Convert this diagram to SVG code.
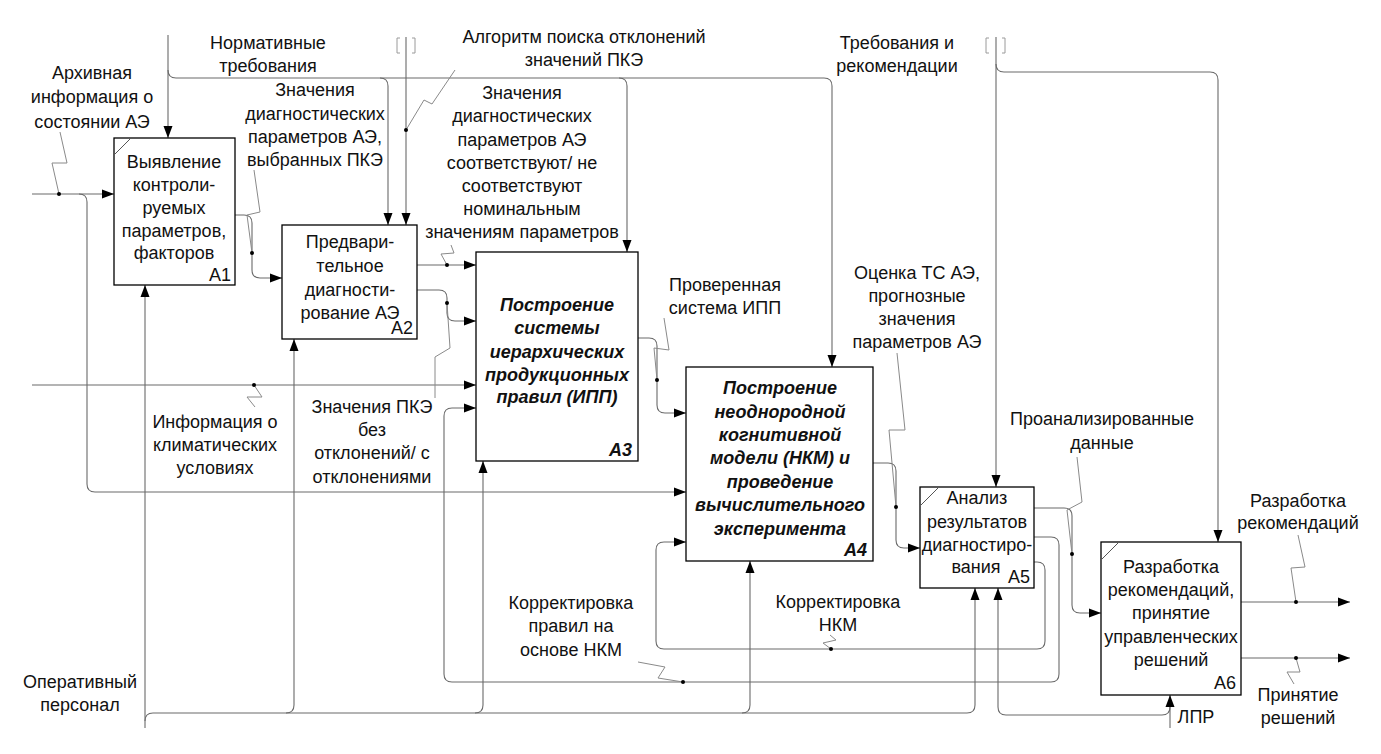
<svg xmlns="http://www.w3.org/2000/svg" width="1381" height="754" viewBox="0 0 1381 754">
<style>
text{font-family:"Liberation Sans",Arial,sans-serif;font-size:18px;fill:#111;text-anchor:middle}
.bi{font-weight:bold;font-style:italic}
.num{text-anchor:end}
.box{fill:#fff;stroke:#000;stroke-width:1.3}
.c{fill:none;stroke:#6a6a6a;stroke-width:1.1}
.a{marker-end:url(#ah)}
.sq{fill:none;stroke:#8a8a8a;stroke-width:1}
.dot{fill:#000}
.br{fill:none;stroke:#9a9a9a;stroke-width:1}
.cm{stroke:#555;stroke-width:1}
</style>
<defs>
<marker id="ah" viewBox="0 0 12 10" refX="12" refY="5" markerWidth="12" markerHeight="10" orient="auto" markerUnits="userSpaceOnUse"><path d="M0,0.5 L12,5 L0,9.5 z" fill="#000"/></marker>
</defs>
<rect width="1381" height="754" fill="#fff"/>

<g id="connectors">
<!-- Нормативные требования -->
<path class="c a" d="M168,35 V138"/>
<path class="c a" d="M168,70 Q168,78 176,78 H824 Q832,78 832,86 V367"/>
<path class="c a" d="M380,78 Q388,78 388,86 V225"/>
<path class="c a" d="M619,78 Q627,78 627,86 V252"/>
<!-- tunnel 1 -->
<path class="c a" d="M406,37 V225"/>
<path class="br" d="M400,38 H397 V53 H400 M412,38 H415 V53 H412"/>
<!-- tunnel 2 -->
<path class="c a" d="M996,37 V487"/>
<path class="c a" d="M996,64 Q996,72 1004,72 H1210 Q1218,72 1218,80 V542"/>
<path class="br" d="M989,38 H986 V53 H989 M1002,38 H1005 V53 H1002"/>
<!-- Архивная -->
<path class="c a" d="M32,194 H114"/>
<path class="c a" d="M79,194 Q87,194 87,202 V484 Q87,492 95,492 H686"/>
<!-- Климат -->
<path class="c a" d="M32,385 H476"/>
<!-- A1 -> A2 -->
<path class="c a" d="M235,215 H244 Q252,215 252,223 V270 Q252,278 260,278 H282"/>
<!-- A2 -> A3 -->
<path class="c a" d="M417,265 H476"/>
<path class="c a" d="M417,290 H439 Q447,290 447,298 V313 Q447,321 455,321 H476"/>
<!-- A3 -> A4 -->
<path class="c a" d="M638,338 H649 Q657,338 657,346 V405 Q657,413 665,413 H686"/>
<!-- A4 -> A5 -->
<path class="c a" d="M873,463 H888 Q896,463 896,471 V540 Q896,548 904,548 H920"/>
<!-- A5 -> A6 -->
<path class="c a" d="M1034,508 H1064 Q1072,508 1072,516 V605 Q1072,613 1080,613 H1101"/>
<!-- A5 -> A3 feedback -->
<path class="c a" d="M1034,537 H1051 Q1059,537 1059,545 V674 Q1059,682 1051,682 H452 Q444,682 444,674 V416 Q444,408 452,408 H476"/>
<!-- A5 -> A4 feedback -->
<path class="c a" d="M1034,562 H1037 Q1045,562 1045,570 V641 Q1045,649 1037,649 H664 Q656,649 656,641 V550 Q656,542 664,542 H686"/>
<!-- Оперативный персонал -->
<path class="c a" d="M145,728 V285"/>
<path class="c a" d="M145,721 Q145,713 153,713 H967 Q975,713 975,705 V588"/>
<path class="c a" d="M286,713 Q294,713 294,705 V339"/>
<path class="c a" d="M475,713 Q483,713 483,705 V461"/>
<path class="c a" d="M742,713 Q750,713 750,705 V561"/>
<!-- ЛПР -->
<path class="c a" d="M1170,728 V695"/>
<path class="c a" d="M1170,707 Q1170,715 1162,715 H1006 Q998,715 998,707 V588"/>
<!-- A6 outputs -->
<path class="c a" d="M1241,602 H1350"/>
<path class="c a" d="M1241,658 H1350"/>
<!-- squiggles -->
<path class="sq" d="M59,194 L52,163 L67,163 L60,132"/>
<path class="sq" d="M252,253 L247,215 L260,212 L254,170"/>
<path class="sq" d="M406,130 L424,100 L432,104 L455,70"/>
<path class="sq" d="M447,265 L441,254 L454,253 L451,245"/>
<path class="sq" d="M447,303 L450,348 L435,357 L435,398"/>
<path class="sq" d="M254,385 L262,397 L247,397 L255,407"/>
<path class="sq" d="M657,380 L654,348 L669,350 L664,318"/>
<path class="sq" d="M896,507 L889,430 L905,430 L897,353"/>
<path class="sq" d="M1072,554 L1067,510 L1082,502 L1077,457"/>
<path class="sq" d="M683,682 L658,678 L665,667 L638,662"/>
<path class="sq" d="M831,649 L823,643 L836,640 L830,635"/>
<path class="sq" d="M1296,602 L1291,568 L1305,567 L1298,535"/>
<path class="sq" d="M1296,658 L1300,672 L1287,672 L1294,684"/>
<circle class="dot" cx="59" cy="194" r="2"/>
<circle class="dot" cx="252" cy="253" r="2"/>
<circle class="dot" cx="406" cy="130" r="2"/>
<circle class="dot" cx="447" cy="265" r="2"/>
<circle class="dot" cx="447" cy="303" r="2"/>
<circle class="dot" cx="254" cy="385" r="2"/>
<circle class="dot" cx="657" cy="380" r="2"/>
<circle class="dot" cx="896" cy="507" r="2"/>
<circle class="dot" cx="1072" cy="554" r="2"/>
<circle class="dot" cx="683" cy="682" r="2"/>
<circle class="dot" cx="831" cy="649" r="2"/>
<circle class="dot" cx="1296" cy="602" r="2"/>
<circle class="dot" cx="1296" cy="658" r="2"/>
</g>

<g id="labels">
<text x="92" y="79">Архивная</text>
<text x="92" y="103">информация о</text>
<text x="92" y="128">состоянии АЭ</text>
<text x="268" y="49">Нормативные</text>
<text x="268" y="72">требования</text>
<text x="584" y="43">Алгоритм поиска отклонений</text>
<text x="584" y="66">значений ПКЭ</text>
<text x="897" y="49">Требования и</text>
<text x="897" y="72">рекомендации</text>
<text x="315" y="96">Значения</text>
<text x="315" y="120">диагностических</text>
<text x="315" y="143">параметров АЭ,</text>
<text x="315" y="166">выбранных ПКЭ</text>
<text x="522" y="99">Значения</text>
<text x="522" y="122">диагностических</text>
<text x="522" y="146">параметров АЭ</text>
<text x="522" y="169">соответствуют/ не</text>
<text x="522" y="192">соответствуют</text>
<text x="522" y="215">номинальным</text>
<text x="522" y="238">значениям параметров</text>
<text x="725" y="291">Проверенная</text>
<text x="725" y="314">система ИПП</text>
<text x="917" y="279">Оценка ТС АЭ,</text>
<text x="917" y="302">прогнозные</text>
<text x="917" y="325">значения</text>
<text x="917" y="348">параметров АЭ</text>
<text x="215" y="428">Информация о</text>
<text x="215" y="451">климатических</text>
<text x="215" y="474">условиях</text>
<text x="372" y="413">Значения ПКЭ</text>
<text x="372" y="436">без</text>
<text x="372" y="459">отклонений/ с</text>
<text x="372" y="483">отклонениями</text>
<text x="1102" y="425">Проанализированные</text>
<text x="1102" y="449">данные</text>
<text x="571" y="609">Корректировка</text>
<text x="571" y="632">правил на</text>
<text x="571" y="656">основе НКМ</text>
<text x="838" y="608">Корректировка</text>
<text x="838" y="631">НКМ</text>
<text x="80" y="688">Оперативный</text>
<text x="80" y="711">персонал</text>
<text x="1298" y="507">Разработка</text>
<text x="1298" y="529">рекомендаций</text>
<text x="1298" y="701">Принятие</text>
<text x="1298" y="724">решений</text>
<text x="1196" y="723">ЛПР</text>
</g>

<g id="A1">
<rect class="box" x="114" y="138" width="121" height="147"/>
<line class="cm" x1="114" y1="155" x2="131" y2="138"/>
<text x="174" y="168">Выявление</text>
<text x="174" y="191">контроли-</text>
<text x="174" y="214">руемых</text>
<text x="174" y="237">параметров,</text>
<text x="174" y="259">факторов</text>
<text class="num" x="231" y="281">A1</text>
</g>

<g id="A2">
<rect class="box" x="282" y="225" width="135" height="114"/>
<text x="350" y="248">Предвари-</text>
<text x="350" y="272">тельное</text>
<text x="350" y="296">диагности-</text>
<text x="350" y="319">рование АЭ</text>
<text class="num" x="413" y="334">A2</text>
</g>

<g id="A3">
<rect class="box" x="476" y="252" width="162" height="209"/>
<text class="bi" x="557" y="311">Построение</text>
<text class="bi" x="557" y="334">системы</text>
<text class="bi" x="557" y="358">иерархических</text>
<text class="bi" x="557" y="381">продукционных</text>
<text class="bi" x="557" y="403">правил (ИПП)</text>
<text class="bi num" x="632" y="456">A3</text>
</g>

<g id="A4">
<rect class="box" x="686" y="367" width="187" height="194"/>
<text class="bi" x="780" y="394">Построение</text>
<text class="bi" x="780" y="418">неоднородной</text>
<text class="bi" x="780" y="441">когнитивной</text>
<text class="bi" x="780" y="464">модели (НКМ) и</text>
<text class="bi" x="780" y="488">проведение</text>
<text class="bi" x="780" y="511">вычислительного</text>
<text class="bi" x="780" y="535">эксперимента</text>
<text class="bi num" x="867" y="556">A4</text>
</g>

<g id="A5">
<rect class="box" x="920" y="487" width="114" height="101"/>
<line class="cm" x1="921" y1="505" x2="938" y2="488"/>
<text x="977" y="504">Анализ</text>
<text x="977" y="528">результатов</text>
<text x="977" y="551">диагностиро-</text>
<text x="976" y="573">вания</text>
<text class="num" x="1030" y="583">A5</text>
</g>

<g id="A6">
<rect class="box" x="1101" y="542" width="140" height="153"/>
<line class="cm" x1="1102" y1="559" x2="1118" y2="543"/>
<text x="1171" y="573">Разработка</text>
<text x="1171" y="596">рекомендаций,</text>
<text x="1171" y="619">принятие</text>
<text x="1171" y="643">управленческих</text>
<text x="1171" y="666">решений</text>
<text class="num" x="1236" y="689">A6</text>
</g>
</svg>
